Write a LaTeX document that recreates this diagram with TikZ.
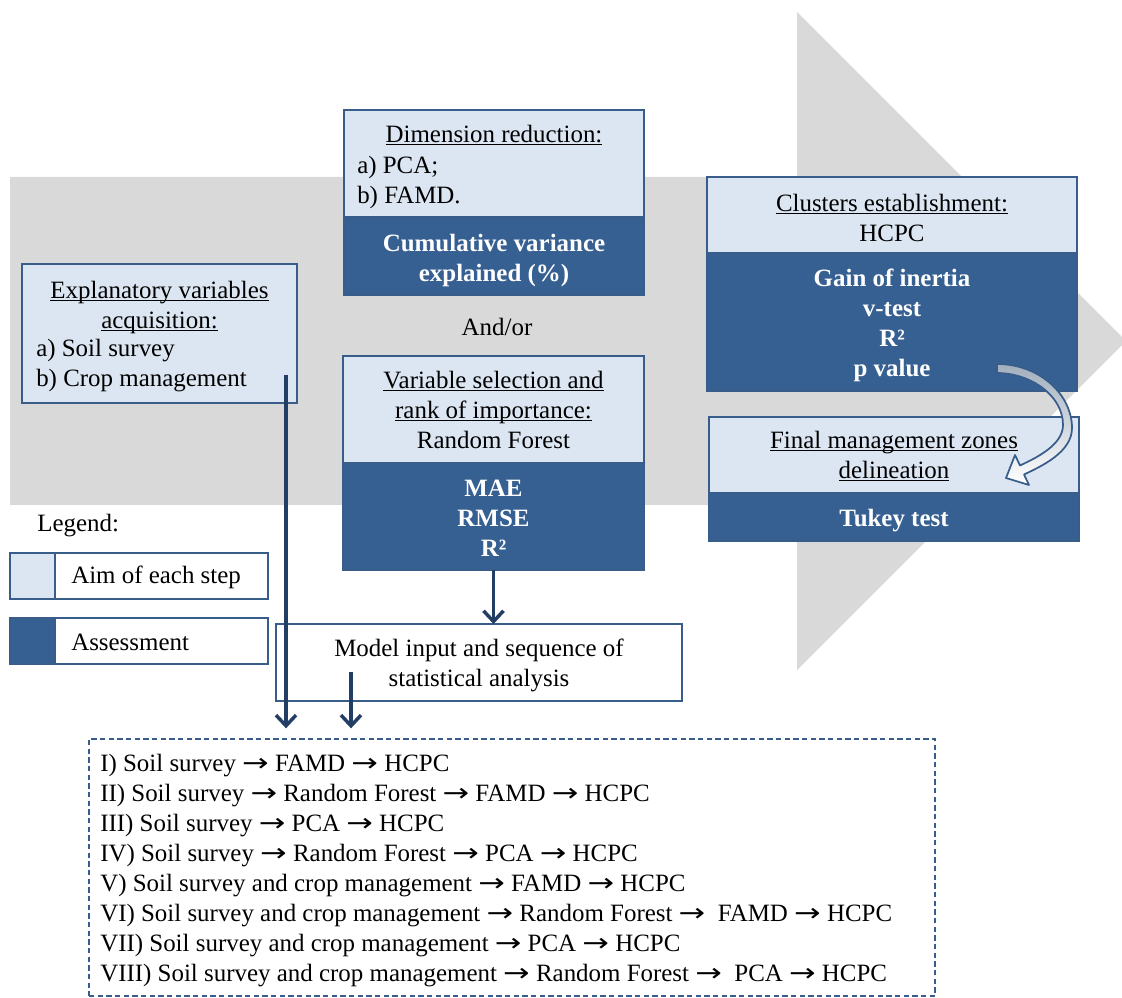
\documentclass[tikz,border=0pt]{standalone}
\usepackage{fontspec}
\usepackage{graphicx}
\setmainfont{Liberation Serif}
\newfontfamily\symfont{DejaVu Sans}
\usetikzlibrary{arrows.meta, positioning}
\definecolor{cgray}{HTML}{D9D9D9}
\definecolor{caim}{HTML}{DCE6F2}
\definecolor{cassess}{HTML}{376092}
\definecolor{cline}{HTML}{385D8A}
\definecolor{cflow}{HTML}{223E64}
\definecolor{ctail}{HTML}{A3AFBE}
\newcommand{\uln}[1]{\underline{\raisebox{0pt}[\height][0pt]{#1}}}
\newcommand{\nxt}{\scalebox{1.4}[1.1]{\symfont\fontsize{17}{17}\selectfont →}}

\begin{document}
\begin{tikzpicture}[
  x=0.75pt, y=-0.75pt,
  font=\fontsize{18.7}{22.5}\selectfont,
  >={Straight Barb[length=8pt, width=15pt]},
  box/.style={draw=cline, line width=1.1pt, inner sep=0pt, outer sep=0pt, align=center},
  aim/.style={box, fill=caim},
  assess/.style={box, fill=cassess},
  txt/.style={inner sep=0pt, align=left},
  wtxt/.style={txt, align=center, text=white, font=\fontsize{18.7}{22.5}\selectfont\bfseries},
  flow/.style={->, line width=2.6pt, draw=cflow},
  ]
\useasboundingbox (0,0) rectangle (1122,998);

% big grey arrow behind everything
\fill[cgray] (10,177) -- (797,177) -- (797,12) -- (1126,341) -- (797,670)
  -- (797,505) -- (10,505) -- cycle;

% explanatory variables
\node[aim, minimum width=206.25pt, minimum height=104.25pt] (expAim) at (159.5,333.5) {};
\node[txt, align=center] (expHead) at (159.5,306) {\uln{Explanatory variables}\\\uln{acquisition:}};
\node[txt, anchor=west] (expList) at (36,366) {a) Soil survey\\b) Crop management};

% dimension reduction
\node[aim, minimum width=225pt, minimum height=80.25pt] (dimAim) at (494,163.5) {};
\node[assess, below=0pt of dimAim, minimum width=225pt, minimum height=58.5pt] (dimAss) {};
\node[txt, align=center] (dimHead) at (494,135) {\uln{Dimension reduction:}};
\node[txt, anchor=west] (dimList) at (357,183) {a) PCA;\\b) FAMD.};
\node[wtxt] (dimAssTxt) at (494,261) {Cumulative variance\\explained (\%)};

\node[txt] (andor) at (497,327) {And/or};

% variable selection
\node[aim, minimum width=225.75pt, minimum height=80.25pt] (varAim) at (493.5,409.5)
  {\uln{Variable selection and}\\\uln{rank of importance:}\\Random Forest};
\node[assess, below=0pt of varAim, minimum width=225.75pt, minimum height=80.25pt] (varAss) {};
\node[wtxt] (varAssTxt) at (493.5,518) {MAE\\RMSE\\R²};

% clusters
\node[aim, minimum width=277.5pt, minimum height=57pt] (cluAim) at (892,215) {};
\node[assess, below=0pt of cluAim, minimum width=277.5pt, minimum height=103.5pt] (cluAss) {};
\node[txt, align=center] (cluHead) at (892,218) {\uln{Clusters establishment:}\\HCPC};
\node[wtxt] (cluAssTxt) at (892,325) {Gain of inertia\\v-test\\R²\\p value};

% final zones
\node[aim, minimum width=277.5pt, minimum height=57pt] (finAim) at (894,455) {};
\node[assess, below=0pt of finAim, minimum width=277.5pt, minimum height=36pt] (finAss) {};
\node[txt, align=center] (finHead) at (894,456.5) {\uln{Final management zones}\\\uln{delineation}};
\node[wtxt] (finAssTxt) at (894,521) {Tukey test};

% legend
\node[txt, anchor=west] (legTitle) at (37,526) {Legend:};
\node[box, fill=white, minimum width=193.5pt, minimum height=34.5pt, anchor=north west] (legAim) at (10,553) {};
\node[aim, minimum width=33.75pt, minimum height=34.5pt, anchor=north west] (legAimSw) at (legAim.north west) {};
\node[txt, anchor=west] (legAimTxt) at (71,577) {Aim of each step};
\node[box, fill=white, minimum width=193.5pt, minimum height=34.5pt, anchor=north west] (legAss) at (10,618) {};
\node[assess, minimum width=33.75pt, minimum height=34.5pt, anchor=north west] (legAssSw) at (legAss.north west) {};
\node[txt, anchor=west] (legAssTxt) at (71,642) {Assessment};

% model input and sequences
\node[box, fill=white, minimum width=304.5pt, minimum height=57.75pt] (model) at (479,662.5) {};
\node[txt, align=center] (modelTxt) at (479,665.5) {Model input and sequence of\\statistical analysis};
\node[box, dash pattern=on 4pt off 2.5pt, line width=0.9pt, minimum width=634.5pt,
  minimum height=192.75pt, anchor=north west] (list) at (89,739) {};
\node[txt, anchor=west] (seqs) at (100,871) {I) Soil survey \nxt{} FAMD \nxt{} HCPC\\
  II) Soil survey \nxt{} Random Forest \nxt{} FAMD \nxt{} HCPC\\
  III) Soil survey \nxt{} PCA \nxt{} HCPC\\
  IV) Soil survey \nxt{} Random Forest \nxt{} PCA \nxt{} HCPC\\
  V) Soil survey and crop management \nxt{} FAMD \nxt{} HCPC\\
  VI) Soil survey and crop management \nxt{} Random Forest \nxt\ \ FAMD \nxt{} HCPC\\
  VII) Soil survey and crop management \nxt{} PCA \nxt{} HCPC\\
  VIII) Soil survey and crop management \nxt{} Random Forest \nxt\ \ PCA \nxt{} HCPC};

% connectors
\coordinate (expOut) at (286,375);
\coordinate (modelOut) at (351,672);
\draw[flow, shorten >=8pt] (expOut) -- (expOut |- list.north);
\draw[flow] (varAss.south) -- (varAss.south |- model.north);
\draw[flow, shorten >=8pt] (modelOut) -- (modelOut |- list.north);

% curved arrow from clusters to final zones
\draw[draw=cline, line width=1.3pt, top color=ctail, bottom color=white, line join=round]
  (997,364) .. controls (1040,364) and (1072,395) .. (1072,428)
  .. controls (1072,452) and (1042,466) .. (1024,474.5)
  -- (1029,485) -- (1006,478) -- (1015,455) -- (1020,465.5)
  .. controls (1036,458) and (1063,445) .. (1063,425)
  .. controls (1063,395) and (1030,373) .. (997,373) -- cycle;
\end{tikzpicture}
\end{document}
